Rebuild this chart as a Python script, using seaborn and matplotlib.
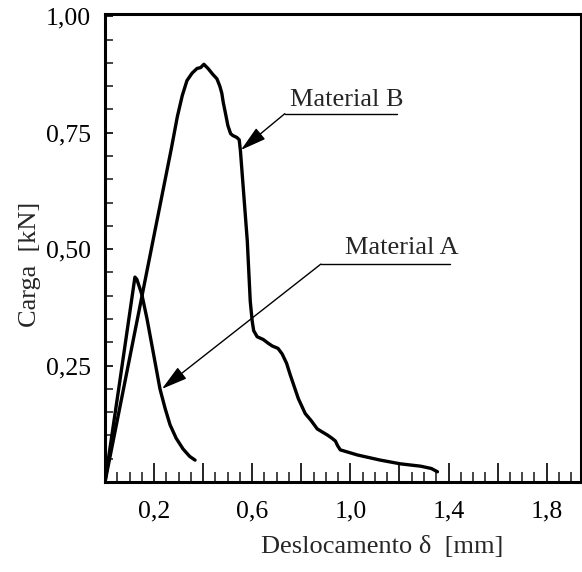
import matplotlib
matplotlib.use("Agg")
import matplotlib.pyplot as plt
import seaborn as sns
import pandas as pd
from matplotlib.ticker import MultipleLocator

# ---- data ----
b_x = [0.0, 0.10, 0.20, 0.27, 0.295, 0.315, 0.334, 0.355, 0.375, 0.39, 0.403, 0.42,
       0.44, 0.456, 0.468, 0.476, 0.482, 0.489, 0.501, 0.512, 0.521, 0.537, 0.547,
       0.552, 0.58, 0.592, 0.60, 0.606, 0.62, 0.645, 0.665, 0.682, 0.705, 0.722,
       0.74, 0.755, 0.788, 0.816, 0.84, 0.865, 0.89, 0.906, 0.925, 0.939, 0.948,
       0.959, 1.029, 1.122, 1.204, 1.286, 1.33, 1.355]
b_y = [0.0, 0.265, 0.53, 0.715, 0.785, 0.83, 0.862, 0.878, 0.888, 0.89, 0.897, 0.888,
       0.875, 0.866, 0.85, 0.835, 0.815, 0.797, 0.765, 0.748, 0.744, 0.74, 0.735,
       0.711, 0.517, 0.388, 0.345, 0.325, 0.312, 0.306, 0.298, 0.292, 0.287, 0.275,
       0.255, 0.23, 0.179, 0.147, 0.132, 0.114, 0.106, 0.101, 0.094, 0.088, 0.078,
       0.069, 0.058, 0.047, 0.039, 0.034, 0.029, 0.022]
a_x = [0.0, 0.06, 0.122, 0.13, 0.15, 0.171, 0.196, 0.224, 0.245, 0.265, 0.29, 0.318,
       0.345, 0.367]
a_y = [0.0, 0.215, 0.44, 0.435, 0.403, 0.351, 0.28, 0.20, 0.158, 0.123, 0.094, 0.071,
       0.055, 0.047]

x_major = [0.0, 0.2, 0.4, 0.6, 0.8, 1.0, 1.2, 1.4, 1.6, 1.8]
x_labels = ["", "0,2", "", "0,6", "", "1,0", "", "1,4", "", "1,8"]
y_major = [0.25, 0.50, 0.75, 1.00]
y_labels = ["0,25", "0,50", "0,75", "1,00"]

label_a = "Material A"
label_b = "Material B"
x_title = "Deslocamento δ  [mm]"
y_title = "Carga  [kN]"

# ---- styling ----
sns.set_theme(style="white")
plt.rcParams["font.family"] = ["Liberation Serif", "DejaVu Serif"]

fig = plt.figure(figsize=(5.82, 5.72), dpi=100)
ax = fig.add_axes([105 / 582, 1 - 482 / 572, 476 / 582, 468 / 572])

df_a = pd.DataFrame({"x": a_x, "y": a_y})
df_b = pd.DataFrame({"x": b_x, "y": b_y})
line_kw = dict(sort=False, estimator=None, color="black", lw=2.4,
               solid_joinstyle="round", solid_capstyle="round")
sns.lineplot(data=df_b, x="x", y="y", ax=ax, **line_kw)
sns.lineplot(data=df_a, x="x", y="y", ax=ax, **line_kw)

ax.set_xlim(0, 1.94)
ax.set_ylim(0, 1.005)

for s in ax.spines.values():
    s.set_linewidth(2.2)
    s.set_color("black")

ax.set_xticks(x_major, x_labels)
ax.set_yticks(y_major, y_labels)
ax.xaxis.set_minor_locator(MultipleLocator(0.05))
ax.yaxis.set_minor_locator(MultipleLocator(0.05))
ax.tick_params(axis="x", which="major", direction="in", length=14, width=1.2,
               labelsize=18.5, pad=13, colors="black")
ax.tick_params(axis="x", which="minor", direction="in", length=7, width=1.2)
ax.tick_params(axis="y", which="major", direction="in", length=6, width=1.2,
               labelsize=18.5, pad=10, colors="black")
ax.tick_params(axis="y", which="minor", direction="in", length=6, width=1.2)
ax.tick_params(which="both", bottom=True, left=True, top=False, right=False)

ax.set_xlabel(x_title, fontsize=19)
ax.set_ylabel(y_title, fontsize=19)
ax.xaxis.set_label_coords(0.582, -0.115)
ax.yaxis.set_label_coords(-0.134, 0.466)

arrow_kw = dict(arrowstyle="-|>,head_length=0.8,head_width=0.22", color="black",
                lw=1.0, shrinkA=0, shrinkB=0, mutation_scale=20)

# Material B annotation
ax.plot([0.733, 1.189], [0.791, 0.791], color="black", lw=1.0)
ax.annotate("", xy=(0.554, 0.713), xytext=(0.733, 0.791), arrowprops=arrow_kw)
ax.text(0.754, 0.808, label_b, fontsize=19, ha="left", va="baseline")

# Material A annotation
ax.plot([0.88, 1.405], [0.468, 0.468], color="black", lw=1.0)
ax.annotate("", xy=(0.232, 0.2), xytext=(0.88, 0.468), arrowprops=arrow_kw)
ax.text(0.978, 0.489, label_a, fontsize=19, ha="left", va="baseline")

fig.savefig("out.png", dpi=100)
